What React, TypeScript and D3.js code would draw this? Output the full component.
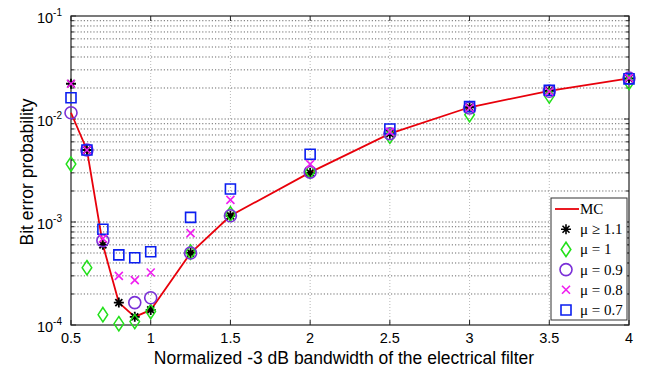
import React, { useEffect, useRef } from "react";
import * as d3 from "d3";

// normalized bandwidth values
const bw = [0.5, 0.6, 0.7, 0.8, 0.9, 1.0, 1.25, 1.5, 2, 2.5, 3, 3.5, 4];
const bwNo08 = [0.5, 0.6, 0.7, 0.9, 1.0, 1.25, 1.5, 2, 2.5, 3, 3.5, 4];

const mc = [0.0115, 0.005, 6.0e-4, 1.65e-4, 1.2e-4, 1.4e-4, 5.0e-4, 1.15e-3, 3.03e-3, 7.2e-3, 0.013, 0.0188, 0.0248];
const mu11 = [0.022, 0.005, 6.0e-4, 1.65e-4, 1.2e-4, 1.4e-4, 5.0e-4, 1.15e-3, 3.0e-3, 7.2e-3, 0.013, 0.0188, 0.0248];
const mu10 = [3.65e-3, 3.6e-4, 1.26e-4, 1.03e-4, 1.08e-4, 1.35e-4, 5.1e-4, 1.2e-3, 3.1e-3, 6.8e-3, 0.011, 0.0167, 0.0226];
const mu09 = [0.0115, 0.005, 6.6e-4, 1.65e-4, 1.84e-4, 5.0e-4, 1.15e-3, 3.05e-3, 7.2e-3, 0.0128, 0.0186, 0.025];
const mu08 = [0.022, 0.005, 6.9e-4, 3.0e-4, 2.73e-4, 3.23e-4, 7.8e-4, 1.64e-3, 3.65e-3, 7.5e-3, 0.0128, 0.0185, 0.025];
const mu07 = [0.0161, 0.005, 8.5e-4, 4.8e-4, 4.5e-4, 5.15e-4, 1.11e-3, 2.09e-3, 4.54e-3, 8.0e-3, 0.0132, 0.019, 0.0245];

const xTicks = [0.5, 1, 1.5, 2, 2.5, 3, 3.5, 4];
const yExps = [-1, -2, -3, -4];
const legendLabels = ["MC", "\u03bc \u2265 1.1", "\u03bc = 1", "\u03bc = 0.9", "\u03bc = 0.8", "\u03bc = 0.7"];

function starPath(s: number) {
  const d = s * 0.7;
  return `M${-s},0L${s},0M0,${-s}L0,${s}M${-d},${-d}L${d},${d}M${-d},${d}L${d},${-d}`;
}

export default function App() {
  const ref = useRef<SVGSVGElement>(null);

  useEffect(() => {
    const svg = d3.select(ref.current);
    svg.selectAll("*").remove();

    const margin = { top: 16, right: 28, bottom: 46, left: 71 };
    const width = 657 - margin.left - margin.right;
    const height = 371 - margin.top - margin.bottom;

    const x = d3.scaleLinear().domain([0.5, 4]).range([0, width]);
    const y = d3.scaleLog().domain([1e-4, 1e-1]).range([height, 0]);

    const g = svg.append("g").attr("transform", `translate(${margin.left},${margin.top})`);

    g.append("rect").attr("width", width).attr("height", height).attr("fill", "white");

    // horizontal grid (major and minor)
    const hvals: number[] = [];
    for (let e = -4; e < -1; e++) {
      for (let m = 1; m <= 9; m++) hvals.push(m * Math.pow(10, e));
    }
    g.append("g")
      .selectAll("line")
      .data(hvals.filter((v) => v > 1e-4))
      .enter()
      .append("line")
      .attr("x1", 0)
      .attr("x2", width)
      .attr("y1", (d) => y(d))
      .attr("y2", (d) => y(d))
      .attr("stroke", "#444")
      .attr("stroke-width", 0.8)
      .attr("stroke-dasharray", "1.2,2");

    // vertical grid
    g.append("g")
      .selectAll("line")
      .data(xTicks.slice(1, -1))
      .enter()
      .append("line")
      .attr("x1", (d) => x(d))
      .attr("x2", (d) => x(d))
      .attr("y1", 0)
      .attr("y2", height)
      .attr("stroke", "#999")
      .attr("stroke-width", 0.7)
      .attr("stroke-dasharray", "1,2");

    // axes box
    g.append("rect")
      .attr("width", width)
      .attr("height", height)
      .attr("fill", "none")
      .attr("stroke", "#222")
      .attr("stroke-width", 1.2);

    // x ticks (bottom and top, inside)
    xTicks.forEach((t) => {
      g.append("line").attr("x1", x(t)).attr("x2", x(t)).attr("y1", height).attr("y2", height - 5).attr("stroke", "#222");
      g.append("line").attr("x1", x(t)).attr("x2", x(t)).attr("y1", 0).attr("y2", 5).attr("stroke", "#222");
      g.append("text")
        .attr("x", x(t))
        .attr("y", height + 18)
        .attr("text-anchor", "middle")
        .style("font-family", "Arial, 'Liberation Sans', sans-serif")
        .style("font-size", "14.5px")
        .text(String(t));
    });

    // y ticks (left and right, inside), minor too
    hvals.concat([1e-1]).forEach((v) => {
      const major = Math.abs(Math.log10(v) - Math.round(Math.log10(v))) < 1e-9;
      const len = major ? 5 : 3;
      g.append("line").attr("x1", 0).attr("x2", len).attr("y1", y(v)).attr("y2", y(v)).attr("stroke", "#222");
      g.append("line").attr("x1", width).attr("x2", width - len).attr("y1", y(v)).attr("y2", y(v)).attr("stroke", "#222");
    });
    yExps.forEach((e) => {
      const t = g.append("text")
        .attr("x", -9)
        .attr("y", y(Math.pow(10, e)) + 7)
        .attr("text-anchor", "end")
        .style("font-family", "Arial, 'Liberation Sans', sans-serif")
        .style("font-size", "14.5px");
      t.append("tspan").text("10");
      t.append("tspan").attr("dy", -7).style("font-size", "10px").text(String(e));
    });

    // MC line
    const line = d3
      .line<number>()
      .x((_, i) => x(bw[i]))
      .y((d) => y(d));
    g.append("path").datum(mc).attr("d", line).attr("fill", "none").attr("stroke", "#e8000b").attr("stroke-width", 1.8);

    const diamond = (s: number) => `M0,${-s * 1.2}L${s * 0.8},0L0,${s * 1.2}L${-s * 0.8},0Z`;
    const cross = (s: number) => `M${-s},${-s}L${s},${s}M${-s},${s}L${s},${-s}`;

    const drawMarkers = (xs: number[], vals: number[], path: string, color: string, sw: number) => {
      g.append("g")
        .selectAll("path")
        .data(vals)
        .enter()
        .append("path")
        .attr("transform", (d, i) => `translate(${x(xs[i])},${y(d)})`)
        .attr("d", path)
        .attr("fill", "none")
        .attr("stroke", color)
        .attr("stroke-width", sw);
    };

    const starD = starPath(5);
    const diaD = diamond(6);
    const circD = d3.symbol().type(d3.symbolCircle).size(Math.PI * 36)()!;
    const crossD = cross(4);
    const sqD = d3.symbol().type(d3.symbolSquare).size(100)()!;

    drawMarkers(bw, mu11, starD, "#000", 1.8);
    drawMarkers(bw, mu10, diaD, "#22e01a", 1.5);
    drawMarkers(bwNo08, mu09, circD, "#7a2fd8", 1.6);
    drawMarkers(bw, mu07, sqD, "#0b1ef0", 1.6);
    drawMarkers(bw, mu08, crossD, "#f01ef0", 1.6);

    // legend
    const lg = g.append("g").attr("transform", `translate(${551 - margin.left},${198 - margin.top})`);
    lg.append("rect").attr("width", 76).attr("height", 122).attr("fill", "white").attr("stroke", "#333").attr("stroke-width", 1);
    const legendMarks = [null, starD, diaD, circD, crossD, sqD];
    const legendColors = ["#e8000b", "#000", "#22e01a", "#7a2fd8", "#f01ef0", "#0b1ef0"];
    legendLabels.forEach((lab, i) => {
      const yy = 11 + i * 20.2;
      if (i === 0) {
        lg.append("line").attr("x1", 4).attr("x2", 28).attr("y1", yy).attr("y2", yy).attr("stroke", legendColors[0]).attr("stroke-width", 1.8);
      } else {
        lg.append("path")
          .attr("transform", `translate(15,${yy})`)
          .attr("d", legendMarks[i] as string)
          .attr("fill", "none")
          .attr("stroke", legendColors[i])
          .attr("stroke-width", 1.6);
      }
      lg.append("text")
        .attr("x", 29)
        .attr("y", yy + 5)
        .style("font-family", "'Liberation Serif', 'Times New Roman', serif")
        .style("font-size", "15px")
        .text(lab);
    });

    // axis labels
    svg.append("text")
      .attr("x", 344)
      .attr("y", 364)
      .attr("text-anchor", "middle")
      .style("font-family", "Arial, 'Liberation Sans', sans-serif")
      .style("font-size", "17.5px")
      .text("Normalized -3 dB bandwidth of the electrical filter");

    svg.append("text")
      .attr("transform", `translate(33,172) rotate(-90)`)
      .attr("text-anchor", "middle")
      .style("font-family", "Arial, 'Liberation Sans', sans-serif")
      .style("font-size", "17.5px")
      .text("Bit error probability");
  }, []);

  return <svg ref={ref} width={657} height={371} style={{ position: "absolute", left: 0, top: 0, background: "white" }} />;
}
